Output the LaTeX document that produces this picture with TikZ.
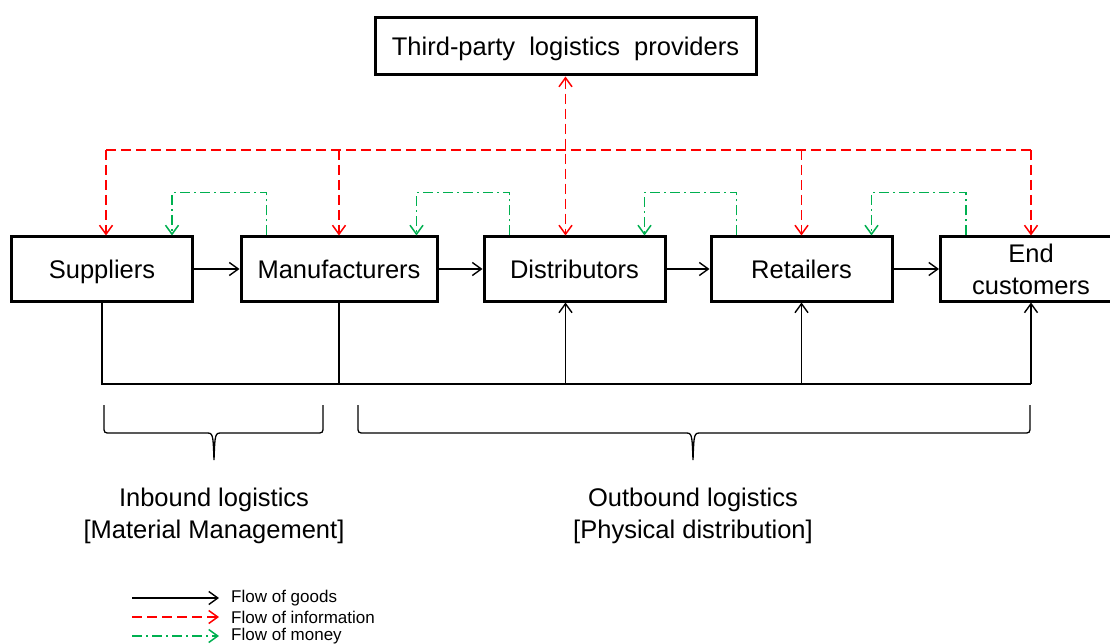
\documentclass[tikz,border=0pt]{standalone}
\usepackage{fontspec}
\setmainfont{Liberation Sans}
\usetikzlibrary{arrows.meta}
\definecolor{moneygreen}{RGB}{0,176,80}

\begin{document}
\begin{tikzpicture}[x=1pt, y=-1pt, >={Straight Barb[length=9pt,width=13pt]},
	every node/.style={font=\fontsize{25.5}{32}\selectfont, align=center},
	stage/.style={draw, line width=3pt, minimum width=181pt, minimum height=64pt, inner sep=2pt},
	one/.style={text height=18.5pt, text depth=0pt},
	goods/.style={line width=1.4pt, black},
	info/.style={line width=1.5pt, red, dash pattern=on 10pt off 5pt},
	money/.style={line width=1.5pt, moneygreen, dash pattern=on 10pt off 4pt on 2pt off 4pt},
	brc/.style={line width=1.3pt},
	leg/.style={anchor=west, inner xsep=12pt, font=\fontsize{17}{19}\selectfont}]
	\useasboundingbox (0,0) rectangle (1110,644);
	\node[stage, one, minimum width=381pt, minimum height=57pt] (tp) at (565.5,46.5) {Third-party\ \ logistics\ \ providers};
	\node[stage, one] (sup) at (102,269) {Suppliers};
	\node[stage, one, minimum width=196pt] (man) at (339,269) {Manufacturers};
	\node[stage, one] (dis) at (574.5,269) {Distributors};
	\node[stage, one] (ret) at (801.5,269) {Retailers};
	\node[stage] (end) at (1031,269) {End\\customers};
	\coordinate (bus) at (0,150);
	\coordinate (low) at (0,384);
	% information
	\draw[info] ([xshift=4pt]sup.north |- bus) -- (end.north |- bus);
	\draw[info,->] ([xshift=4pt]sup.north |- bus) -- ([xshift=4pt]sup.north);
	\foreach \n in {man, ret, end}
		\draw[info,->] (\n.north |- bus) -- (\n.north);
	\draw[info,<->] (tp.south) -- (tp.south |- dis.north);
	% money
	\foreach \a/\b in {sup/man, man/dis, dis/ret, ret/end}
		\draw[money,->] ([xshift=27pt]\b.north west) -- ++(0,-43) -| ([xshift=-22pt]\a.north east);
	% goods
	\foreach \a/\b in {sup/man, man/dis, dis/ret, ret/end}
		\draw[goods,->] (\a) -- (\b);
	\draw[goods] (sup.south) -- (sup.south |- low) -- (end.south |- low);
	\draw[goods] (man.south) -- (man.south |- low);
	\draw[goods,->] (tp.south |- low) -- (tp.south |- dis.south);
	\draw[goods,->] (ret.south |- low) -- (ret.south);
	\draw[goods,->] (end.south |- low) -- (end.south);
	% braces
	\foreach \l/\m/\r in {104/214/323, 358/693/1030}
		\draw[brc] (\l,405) -- (\l,426) .. controls (\l,433) .. ({\l+7},433) -- ({\m-8},433)
			.. controls ({\m-1},433) .. (\m,460) .. controls ({\m+1},433) .. ({\m+8},433)
			-- ({\r-7},433) .. controls (\r,433) .. (\r,426) -- (\r,405);
	\node (inb) at (214,516) {Inbound logistics\\{[Material Management]}};
	\node (outb) at (693,516) {Outbound logistics\\{[Physical distribution]}};
	% legend
	\node[leg] (lgoods) at (219,598) {Flow of goods};
	\node[leg] (linfo) at (219,617) {Flow of information};
	\node[leg] (lmoney) at (219,636) {Flow of money};
	\coordinate (g0) at (132,598);
	\coordinate (i0) at (132,617);
	\coordinate (m0) at (132,636);
	\draw[goods,->] (g0) -- (lgoods.west);
	\draw[info,->] (i0) -- (linfo.west);
	\draw[money,->] (m0) -- (lmoney.west);
\end{tikzpicture}
\end{document}
